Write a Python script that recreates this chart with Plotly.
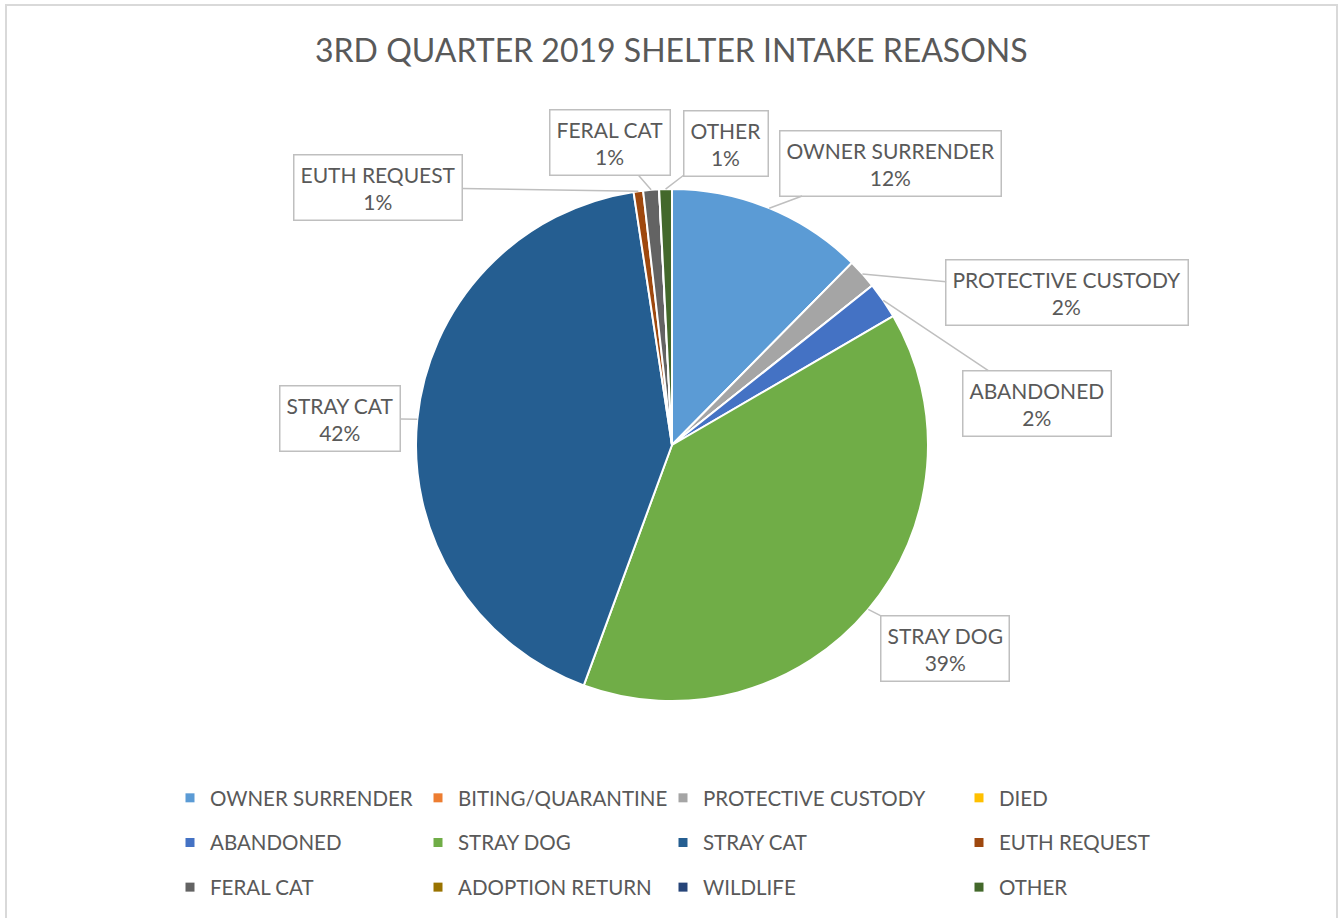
import math
import plotly.graph_objects as go

# intake reasons, in pie order (clockwise from 12 o'clock)
reasons = ["OWNER SURRENDER", "BITING/QUARANTINE", "PROTECTIVE CUSTODY", "DIED",
           "ABANDONED", "STRAY DOG", "STRAY CAT", "EUTH REQUEST",
           "FERAL CAT", "ADOPTION RETURN", "WILDLIFE", "OTHER"]
intakes = [124, 0, 19, 0, 23, 390, 420, 6, 10, 0, 0, 8]
colors = ["#5B9BD5", "#ED7D31", "#A5A5A5", "#FFC000", "#4472C4", "#70AD47",
          "#255E91", "#9E480E", "#636363", "#997300", "#264478", "#43682B"]

W, H = 1340, 918
CX, CY, R = 672, 445, 256          # pie centre / radius in px
FONT = "Lato"
GREY = "#595959"

# callout box offsets (px) from the slice edge point
callout_offsets = {
    "OWNER SURRENDER": (121, -45),
    "PROTECTIVE CUSTODY": (205, 19),
    "ABANDONED": (154, 103),
    "STRAY DOG": (77, 39),
    "STRAY CAT": (-77, -1),
    "EUTH REQUEST": (-260, -4),
    "FERAL CAT": (-41, -47),
    "OTHER": (60, -46),
}

fig = go.Figure()

fig.add_trace(go.Pie(
    labels=reasons, values=intakes,
    sort=False, direction="clockwise", rotation=0,
    marker=dict(colors=colors, line=dict(color="white", width=2)),
    textinfo="none", showlegend=False,
    domain=dict(x=[(CX - R) / W, (CX + R) / W],
                y=[1 - (CY + R) / H, 1 - (CY - R) / H]),
))

# callout labels
total = sum(intakes)
annotations = []
cum = 0
for lab, v in zip(reasons, intakes):
    mid = (cum + v / 2) / total * 2 * math.pi
    cum += v
    if lab not in callout_offsets:
        continue
    tx = CX + R * math.sin(mid)
    ty = CY - R * math.cos(mid)
    ax, ay = callout_offsets[lab]
    annotations.append(dict(
        x=tx / W, y=1 - ty / H, xref="paper", yref="paper",
        ax=ax, ay=ay, showarrow=True, arrowhead=0, arrowwidth=1.5,
        arrowcolor="#BFBFBF", standoff=0,
        text=f"{lab}<br>{round(v / total * 100)}%",
        font=dict(family=FONT, size=21, color=GREY),
        bgcolor="white", bordercolor="#BFBFBF", borderwidth=1.5, borderpad=6,
    ))

# legend: four columns of three entries
col_x = [170, 418, 663, 959]
legends = {}
for i, (lab, c) in enumerate(zip(reasons, colors)):
    col = i % 4
    key = "legend" if col == 0 else f"legend{col + 1}"
    fig.add_trace(go.Scatter(
        x=[None], y=[None], mode="markers", name=lab,
        marker=dict(symbol="square", size=9, color=c),
        legend=key, legendgroup=lab, showlegend=True, hoverinfo="skip",
    ))
    legends[key] = dict(
        x=col_x[col] / W, y=1 - 778 / H, xanchor="left", yanchor="top",
        orientation="v", bgcolor="rgba(0,0,0,0)", borderwidth=0,
        tracegroupgap=15, itemwidth=30,
        font=dict(family=FONT, size=20.5, color=GREY),
    )

fig.update_layout(
    width=W, height=H,
    margin=dict(l=0, r=0, t=0, b=0),
    paper_bgcolor="white", plot_bgcolor="white",
    title=dict(text="3RD QUARTER 2019 SHELTER INTAKE REASONS",
               x=0.501, xanchor="center", y=1 - 51 / H, yanchor="middle",
               font=dict(family=FONT, size=32, color=GREY)),
    xaxis=dict(visible=False), yaxis=dict(visible=False),
    annotations=annotations,
    shapes=[dict(type="rect", xref="paper", yref="paper",
                 x0=6 / W, x1=1337 / W, y0=-0.05, y1=1 - 5 / H,
                 line=dict(color="#D9D9D9", width=2))],
    **legends,
)

fig.write_html("out.html", config={"displayModeBar": False},
               post_script="document.body.style.margin='0';")
